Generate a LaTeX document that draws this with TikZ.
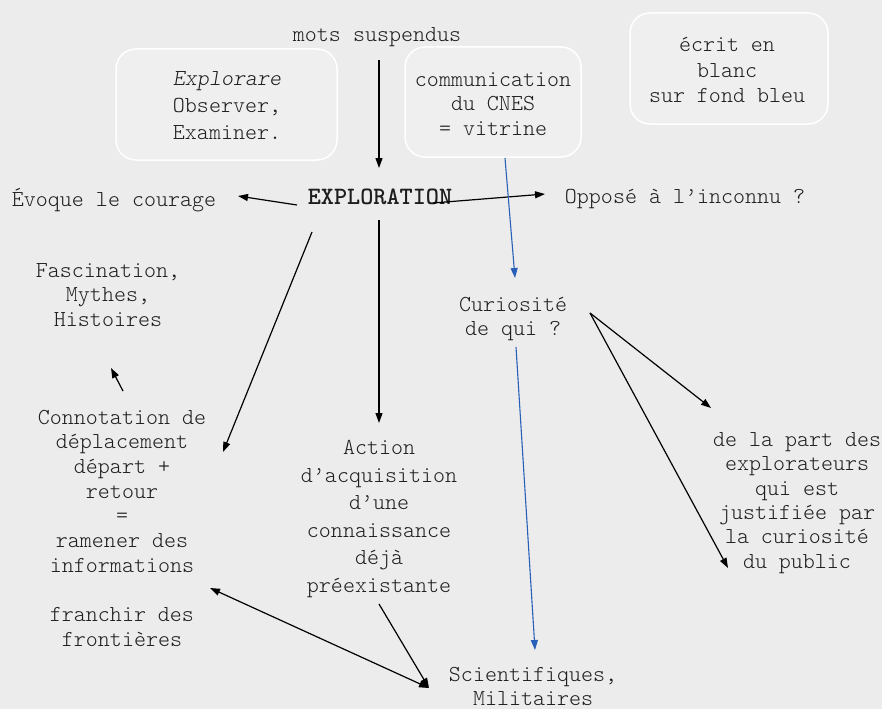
\documentclass[tikz,border=0pt]{standalone}
\usepackage{fontspec}
\setmainfont{Latin Modern Mono Light}
\usetikzlibrary{arrows.meta}
\definecolor{bgc}{RGB}{235,236,235}
\definecolor{boxfill}{RGB}{238,239,238}
\definecolor{bluel}{RGB}{40,95,185}
\definecolor{ink}{RGB}{30,30,30}
\begin{document}
\begin{tikzpicture}[x=1pt,y=-1pt,
  txt/.style={inner sep=0pt,align=center,text=ink,font=\fontsize{22.86}{24.7}\selectfont},
  roundbox/.style={draw=white,line width=1.5pt,fill=boxfill,rounded corners=20pt},
  arr/.style={-{Triangle[length=10pt,width=7pt]},line width=1.2pt,draw=black},
  barr/.style={arr,draw=bluel,-{Triangle[length=10pt,width=7pt]},line width=1.1pt},
  darr/.style={{Triangle[length=10pt,width=7pt]}-{Triangle[length=10pt,width=7pt]},line width=1.2pt}]
\fill[bgc] (0,0) rectangle (882,709);
\useasboundingbox (0,0) rectangle (882,709);

% boxes
\draw[roundbox] (116,49) rectangle (337,160);
\draw[roundbox] (405,47) rectangle (581,157);
\draw[roundbox] (630,13) rectangle (828,124);

% nodes
\node[txt] (mots) at (377,37) {mots suspendus};
\node[txt,font=\fontsize{22.86}{27}\selectfont] (explorare) at (227,106) {\textit{Explorare}\\Observer,\\Examiner.};
\node[txt,font=\fontsize{22.86}{24.5}\selectfont] (cnes) at (493,104) {communication\\du CNES\\= vitrine};
\node[txt,font=\fontsize{22.86}{25.5}\selectfont] (blanc) at (727,70) {écrit en\\blanc\\sur fond bleu};
\node[txt,font=\fontsize{25}{26}\selectfont\bfseries] (expl) at (380,197) {EXPLORATION};
\node[txt] (evoque) at (114,200) {Évoque le courage};
\node[txt] (oppose) at (685,199) {Opposé à l’inconnu ?};
\node[txt] (curio) at (513,319) {Curiosité\\de qui ?};
\node[txt,font=\fontsize{22.86}{24.5}\selectfont] (fasc) at (108,295) {Fascination,\\Mythes,\\Histoires};
\node[txt,font=\fontsize{22.86}{24.67}\selectfont] (conn) at (122,528) {Connotation de\\déplacement\\départ +\\retour\\=\\ramener des\\informations\\[24.67pt]franchir des\\frontières};
\node[txt,font=\fontsize{22.86}{27.6}\selectfont] (action) at (379,519) {Action\\d’acquisition\\d’une\\connaissance\\déjà\\préexistante};
\node[txt,font=\fontsize{22.86}{24.4}\selectfont] (part) at (797,503) {de la part des\\explorateurs\\qui est\\justifiée par\\la curiosité\\du public};
\node[txt,font=\fontsize{22.86}{24}\selectfont] (sci) at (533,686) {Scientifiques,\\Militaires};

% connector end points
\coordinate (motsS) at (379,60);
\coordinate (explN) at (379,168);
\coordinate (explW) at (297,205);
\coordinate (evoqueE) at (238,196);
\coordinate (explE) at (433,203);
\coordinate (opposeW) at (545,194);
\coordinate (cnesS) at (505,158);
\coordinate (curioN) at (515,278);
\coordinate (explSW) at (312,232);
\coordinate (connNE) at (223,452);
\coordinate (explS) at (379,220);
\coordinate (actionN) at (379,423);
\coordinate (connN) at (123,391);
\coordinate (fascS) at (111,368);
\coordinate (curioS) at (516,347);
\coordinate (sciN) at (535,650);
\coordinate (curioE) at (590,313);
\coordinate (partNW) at (711,408);
\coordinate (partW) at (728,568);
\coordinate (actionS) at (379,604);
\coordinate (sciW) at (429,688);
\coordinate (connSE) at (210,588);

% connectors
\draw[arr] (motsS) -- (explN);
\draw[arr] (explW) -- (evoqueE);
\draw[arr] (explE) -- (opposeW);
\draw[barr] (cnesS) -- (curioN);
\draw[arr] (explSW) -- (connNE);
\draw[arr] (explS) -- (actionN);
\draw[arr] (connN) -- (fascS);
\draw[barr] (curioS) -- (sciN);
\draw[arr] (curioE) -- (partNW);
\draw[arr] (curioE) -- (partW);
\draw[arr] (actionS) -- (sciW);
\draw[darr] (connSE) -- (sciW);
\end{tikzpicture}
\end{document}
